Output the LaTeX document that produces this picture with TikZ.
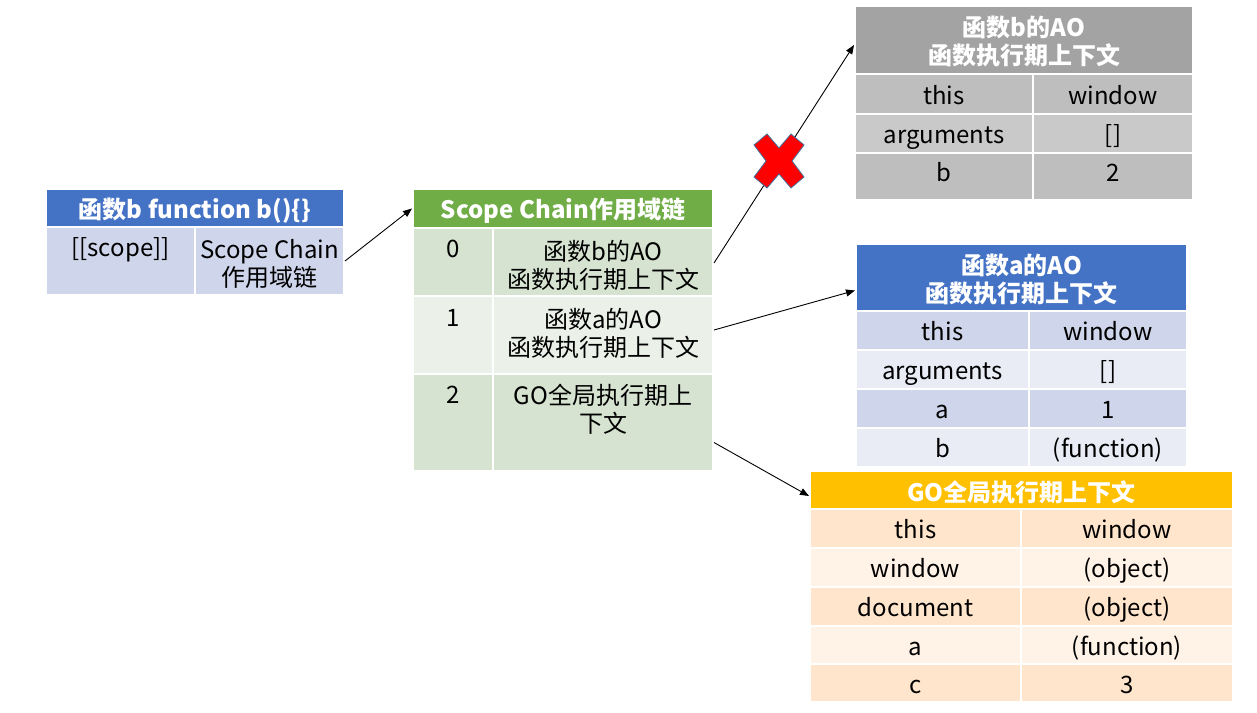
\documentclass[tikz,border=0pt]{standalone}
\usepackage{fontspec}
\setmainfont{Noto Sans CJK SC}
\usetikzlibrary{arrows.meta}
\definecolor{blueH}{HTML}{4472C4}
\definecolor{blueA}{HTML}{CFD5EA}
\definecolor{blueB}{HTML}{E9EBF5}
\definecolor{greenH}{HTML}{70AD47}
\definecolor{greenA}{HTML}{D6E3D0}
\definecolor{greenB}{HTML}{EBF1E9}
\definecolor{grayH}{HTML}{A3A3A3}
\definecolor{grayA}{HTML}{BEBEBE}
\definecolor{grayB}{HTML}{C9C9C9}
\definecolor{orangeH}{HTML}{FFC000}
\definecolor{orangeA}{HTML}{FFE5CB}
\definecolor{orangeB}{HTML}{FFF2E6}
\definecolor{xborder}{HTML}{41719C}
\tikzset{
  cell/.style={draw=white, line width=2pt, inner sep=0pt},
  txt/.style={inner sep=0pt, align=center, font=\fontsize{24}{28}\selectfont},
  tbody/.style={txt, yshift=-3pt},
  tbodyup/.style={txt, yshift=2pt},
  tone/.style={txt, text height=22pt, text depth=2pt},
  thead/.style={txt, text=white, font=\fontsize{24}{28}\selectfont\bfseries, yshift=-1.5pt},
  theadone/.style={thead, yshift=-1pt},
  arr/.style={-{Triangle[length=9pt,width=7pt]}, line width=0.9pt, black},
  crossmark/.style={fill=red, draw=xborder, line width=0.8pt, line join=miter}
}
% name, x1, y1, x2, y2, fill, text style, text
\newcommand\mkcell[8]{%
  \pgfmathsetmacro\cw{#4-#2}\pgfmathsetmacro\ch{#5-#3}%
  \node[cell, fill=#6, minimum width=\cw pt, minimum height=\ch pt] (#1) at ({(#2+#4)/2},{(#3+#5)/2}) {};
  \node[#7] (#1t) at (#1.center) {#8};}
\begin{document}
\begin{tikzpicture}[x=1pt,y=-1pt]
\useasboundingbox[fill=white] (0,0) rectangle (1257,712);
% left table
\mkcell{lh}{46}{189}{344}{227}{blueH}{theadone}{函数b function b()\{\}}
\mkcell{l1}{46}{227}{195}{295}{blueA}{txt}{}
\mkcell{l2}{195}{227}{344}{295}{blueA}{tbody}{Scope Chain\\作用域链}
\node[txt] (l1s) at (120.5,250) {[[scope]]};
% middle table
\mkcell{mh}{413}{189}{713}{228}{greenH}{theadone}{Scope Chain作用域链}
\mkcell{m0a}{413}{228}{493}{296}{greenA}{txt}{}
\mkcell{m0b}{493}{228}{713}{296}{greenA}{tbody}{函数b的AO\\函数执行期上下文}
\mkcell{m1a}{413}{296}{493}{374}{greenB}{txt}{}
\mkcell{m1b}{493}{296}{713}{374}{greenB}{tbodyup}{函数a的AO\\函数执行期上下文}
\mkcell{m2a}{413}{374}{493}{471}{greenA}{txt}{}
\mkcell{m2b}{493}{374}{713}{471}{greenA}{txt}{}
\node[txt] (m0s) at (453,249) {0};
\node[txt] (m1s) at (453,318) {1};
\node[txt] (m2s) at (453,395) {2};
\node[txt] (m2bs) at (603,409) {GO全局执行期上\\下文};
% gray table
\mkcell{gh}{855}{6}{1193}{74}{grayH}{thead}{函数b的AO\\函数执行期上下文}
\mkcell{g1a}{855}{74}{1033}{114}{grayA}{tone}{this}
\mkcell{g1b}{1033}{74}{1193}{114}{grayA}{tone}{window}
\mkcell{g2a}{855}{114}{1033}{153}{grayB}{tone}{arguments}
\mkcell{g2b}{1033}{114}{1193}{153}{grayB}{tone}{[]}
\mkcell{g3a}{855}{153}{1033}{200}{grayA}{txt}{}
\mkcell{g3b}{1033}{153}{1193}{200}{grayA}{txt}{}
\node[tone] (g3as) at (944,171) {b};
\node[tone] (g3bs) at (1113,171) {2};
% blue table right
\mkcell{bh}{856}{244}{1187}{311}{blueH}{thead}{函数a的AO\\函数执行期上下文}
\mkcell{b1a}{856}{311}{1029}{350}{blueA}{tone}{this}
\mkcell{b1b}{1029}{311}{1187}{350}{blueA}{tone}{window}
\mkcell{b2a}{856}{350}{1029}{389}{blueB}{tone}{arguments}
\mkcell{b2b}{1029}{350}{1187}{389}{blueB}{tone}{[]}
\mkcell{b3a}{856}{389}{1029}{428}{blueA}{tone}{a}
\mkcell{b3b}{1029}{389}{1187}{428}{blueA}{tone}{1}
\mkcell{b4a}{856}{428}{1029}{467}{blueB}{tone}{b}
\mkcell{b4b}{1029}{428}{1187}{467}{blueB}{tone}{(function)}
% orange table
\mkcell{oh}{810}{471}{1233}{509}{orangeH}{theadone}{GO全局执行期上下文}
\mkcell{o1a}{810}{509}{1021}{548}{orangeA}{tone}{this}
\mkcell{o1b}{1021}{509}{1233}{548}{orangeA}{tone}{window}
\mkcell{o2a}{810}{548}{1021}{587}{orangeB}{tone}{window}
\mkcell{o2b}{1021}{548}{1233}{587}{orangeB}{tone}{(object)}
\mkcell{o3a}{810}{587}{1021}{626}{orangeA}{tone}{document}
\mkcell{o3b}{1021}{587}{1233}{626}{orangeA}{tone}{(object)}
\mkcell{o4a}{810}{626}{1021}{664}{orangeB}{tone}{a}
\mkcell{o4b}{1021}{626}{1233}{664}{orangeB}{tone}{(function)}
\mkcell{o5a}{810}{664}{1021}{702}{orangeA}{tone}{c}
\mkcell{o5b}{1021}{664}{1233}{702}{orangeA}{tone}{3}
% connectors
\draw[arr] (l2.east) -- (mh.west);
\draw[arr] ([yshift=-1pt]m0b.east) -- ([yshift=-5pt]gh.west);
\draw[arr] ([yshift=5pt]m1b.east) -- ([yshift=-13pt]bh.west);
\draw[arr] ([yshift=-20pt]m2b.east) -- ([yshift=-6pt]oh.west);
% red cross
\begin{scope}[shift={(779,161)}]
\draw[crossmark] (-25,-16) -- (-12,-27) -- (0,-13) -- (12,-27) -- (25,-16) -- (13,0)
  -- (25,16) -- (12,27) -- (0,13) -- (-12,27) -- (-25,16) -- (-13,0) -- cycle;
\end{scope}
\end{tikzpicture}
\end{document}
